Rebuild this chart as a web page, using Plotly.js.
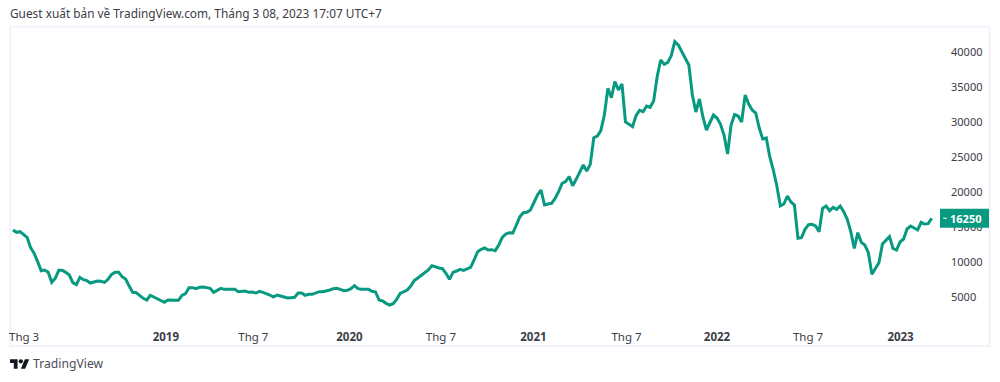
<!DOCTYPE html>
<html><head><meta charset="utf-8">
<script src="https://cdn.plot.ly/plotly-3.0.1.min.js"></script>
<style>html,body{margin:0;padding:0;background:#fff}#c{width:1000px;height:382px}</style>
</head><body><div id="c"></div>
<script>
const firstWeek = '2018-03-03';
const weekMs = 7 * 86400000;
const closes = [
14572,14238,14334,13857,13524,12048,11238,10048,8762,8857,8524,7095,7667,8810,8810,8524,8143,7048,6762,7810,
7477,7334,7000,7143,7286,7238,7095,7524,8238,8524,8524,7905,7572,6572,5667,5619,5143,4810,4572,5238,
5000,4715,4476,4238,4572,4572,4620,4524,5238,5476,6333,6333,6190,6381,6429,6381,6238,5667,6000,6238,
6095,6095,6095,6095,5762,5857,5857,5667,5714,5572,5810,5667,5524,5286,5000,5286,5143,5000,4857,4905,
4952,5572,5572,5238,5381,5381,5524,5762,5762,5857,6000,6190,6238,
6095,5905,5953,6190,6619,6190,6095,6095,6095,5810,5715,4572,4429,4095,3857,4048,4667,5524,5810,6000,
6572,7334,7715,8095,8381,8857,9477,9286,9143,9048,8381,7524,8524,8715,8953,8810,9048,9238,10286,11476,
11810,12000,11715,11762,11620,12429,13524,14000,14191,14143,15286,16477,17048,17096,17429,
18619,19571,20286,18143,18286,18381,19095,20048,21238,21476,22191,20905,21810,22810,23858,23000,23953,27762,28000,28762,
31000,34810,33476,35762,34572,35429,30000,29667,29334,30905,31667,31476,32286,32095,33000,36476,38858,38238,38524,39477,
41477,41000,40048,38999,38143,33857,31429,33286,30714,28857,30000,31000,30571,29672,28143,25429,29571,31071,30857,30000,
33858,32572,31714,31286,29143,27571,27714,25000,23143,20857,18000,18286,19429,18571,18143,
13381,13476,14667,15333,15381,15143,14334,17667,18000,17333,17810,17524,18000,17190,16095,14334,11953,14190,
12809,12428,11333,8238,9095,9904,12571,13143,13619,11952,11714,12857,13285,14714,15142,14857,14571,15666,15428,15476,16250
];
const lastClose = 16250;
const priceTicks = [5000,10000,15000,20000,25000,30000,35000,40000];
const timeTickDates = ['2018-03-25','2019-01-01','2019-06-24','2020-01-01','2020-07-01','2021-01-01','2021-07-05','2022-01-01','2022-07-01','2023-01-01'];
const timeTickText = ['Thg 3','<b>2019</b>','Thg 7','<b>2020</b>','Thg 7','<b>2021</b>','Thg 7','<b>2022</b>','Thg 7','<b>2023</b>'];
const headline = 'Guest xuất bản về TradingView.com, Tháng 3 08, 2023 17:07 UTC+7';
const brand = 'TradingView';

const FONT = '"Noto Sans", sans-serif';
const GREEN = '#089981';
const logo = 'data:image/svg+xml;utf8,' + encodeURIComponent('<svg xmlns="http://www.w3.org/2000/svg" width="36" height="28" viewBox="0 0 36 28"><path fill="#131722" d="M14 22H7V11H0V4h14v18zM28 22h-8l7.5-18h8L28 22z"/><circle fill="#131722" cx="20" cy="8" r="4"/></svg>');

Plotly.newPlot('c', [{
  type: 'scatter', mode: 'lines', x0: firstWeek, dx: weekMs, y: closes,
  line: {color: GREEN, width: 3, shape: 'linear'}, hoverinfo: 'skip'
}], {
  width: 1000, height: 382,
  margin: {l: 0, r: 0, t: 0, b: 0},
  paper_bgcolor: '#fff', plot_bgcolor: '#fff',
  showlegend: false,
  font: {family: FONT, size: 12, color: '#3a3d46'},
  title: {text: headline, x: 0.01, xanchor: 'left', xref: 'container', y: 1 - 14/382, yanchor: 'middle', yref: 'container',
          font: {family: FONT, size: 11.85, color: '#3a3d46'}},
  xaxis: {type: 'date', domain: [0, 0.945], range: ['2018-02-05 03:36', '2023-03-30 10:00'],
    tickmode: 'array', tickvals: timeTickDates, ticktext: timeTickText, tickangle: 0,
    showgrid: false, zeroline: false, showline: false, ticks: '', ticklen: 0, ticklabelstandoff: 3,
    tickfont: {family: FONT, size: 11.5, color: '#3a3d46'}},
  yaxis: {domain: [57/382, 1], range: [1000, 47428.6], side: 'right',
    tickmode: 'array', tickvals: priceTicks, ticktext: priceTicks.map(String),
    showgrid: false, zeroline: false, showline: false, ticks: '', ticklen: 0, ticklabelstandoff: 5,
    tickfont: {family: FONT, size: 11, color: '#3a3d46'}},
  shapes: [
    {type: 'rect', xref: 'paper', yref: 'paper', x0: 0.0103, x1: 0.9895, y0: 1 - 26.7/382, y1: 1 - 346/382,
     line: {color: '#f0f3fa', width: 2}, fillcolor: 'rgba(0,0,0,0)', layer: 'below'},
    {type: 'rect', xref: 'paper', yref: 'y', ysizemode: 'pixel', yanchor: lastClose, y0: -9.5, y1: 9.5,
     x0: 0.940, x1: 0.989, fillcolor: GREEN, line: {width: 0}, layer: 'above'},
    {type: 'line', xref: 'paper', yref: 'y', ysizemode: 'pixel', yanchor: lastClose, y0: 0, y1: 0,
     x0: 0.9432, x1: 0.9468, line: {color: '#fff', width: 1}, layer: 'above'}
  ],
  annotations: [
    {xref: 'paper', yref: 'y', x: 0.9475, y: lastClose, xanchor: 'left', yanchor: 'middle', showarrow: false,
     text: '<b>' + lastClose + '</b>', font: {family: FONT, size: 11, color: '#fff'}},
    {xref: 'paper', yref: 'paper', x: 0.0312, y: 1 - 363.5/382, xanchor: 'left', yanchor: 'middle', showarrow: false,
     text: brand, font: {family: FONT, size: 12.2, color: '#4a4e59'}}
  ],
  images: [{source: logo, xref: 'paper', yref: 'paper', x: 0.010, y: 1 - 357/382, sizex: 0.0195, sizey: 15/382,
            xanchor: 'left', yanchor: 'top', sizing: 'stretch', layer: 'above'}],
  hovermode: false
}, {staticPlot: true, displayModeBar: false});
</script></body></html>
